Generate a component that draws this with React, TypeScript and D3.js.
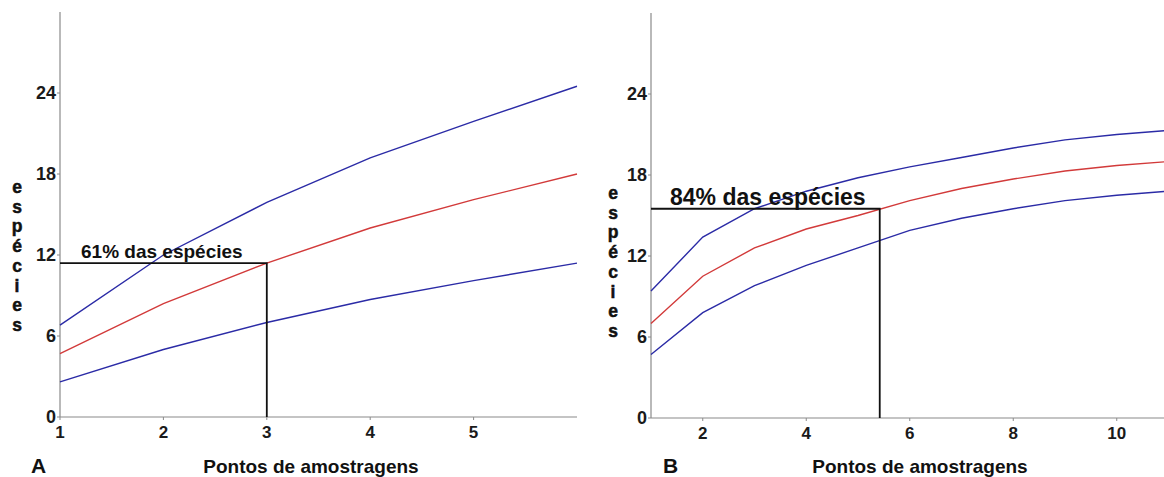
import React, { useEffect, useRef } from 'react';
import * as d3 from 'd3';

// panel A: 6 sampling points
const pointsA = [1, 2, 3, 4, 5, 6];
const upperA = [6.8, 12.0, 15.9, 19.2, 21.9, 24.5];
const meanA = [4.7, 8.4, 11.4, 14.0, 16.1, 18.0];
const lowerA = [2.6, 5.0, 7.0, 8.7, 10.1, 11.4];

// panel B: 11 sampling points
const pointsB = [1, 2, 3, 4, 5, 6, 7, 8, 9, 10, 11];
const upperB = [9.4, 13.4, 15.5, 16.8, 17.8, 18.6, 19.3, 20.0, 20.6, 21.0, 21.3];
const meanB = [7.0, 10.5, 12.6, 14.0, 15.0, 16.1, 17.0, 17.7, 18.3, 18.7, 19.0];
const lowerB = [4.7, 7.8, 9.8, 11.3, 12.6, 13.9, 14.8, 15.5, 16.1, 16.5, 16.8];

const yTicks = [0, 6, 12, 18, 24];
const xTicksA = [1, 2, 3, 4, 5];
const xTicksB = [2, 4, 6, 8, 10];

const markA = { x: 3, y: 11.4, label: '61% das espécies' };
const markB = { x: 5.42, y: 15.5, label: '84% das espécies' };

const yLabel = 'espécies';
const xLabel = 'Pontos de amostragens';

const FONT = '"Liberation Sans", Arial, sans-serif';

function drawPanel(svg, cfg) {
  const { left, right, top, bottom, xDomain, xTicks, pts, upper, mean, lower, mark, letter,
    letterX, titleX, yLabX, yLabY, markSize, markDx, markDy } = cfg;

  const x = d3.scaleLinear().domain(xDomain).range([left, right]);
  const y = d3.scaleLinear().domain([0, 30]).range([bottom, top]);

  const g = svg.append('g');

  // axes
  g.append('line')
    .attr('x1', left).attr('x2', left)
    .attr('y1', y(30)).attr('y2', y(0))
    .attr('stroke', '#8a8a8a').attr('stroke-width', 1.2);
  g.append('line')
    .attr('x1', left).attr('x2', right)
    .attr('y1', y(0)).attr('y2', y(0))
    .attr('stroke', '#8a8a8a').attr('stroke-width', 1.2);

  g.selectAll('.yt').data(yTicks).enter().append('line')
    .attr('x1', left - 3).attr('x2', left)
    .attr('y1', d => y(d)).attr('y2', d => y(d))
    .attr('stroke', '#8a8a8a');
  g.selectAll('.ytl').data(yTicks).enter().append('text')
    .attr('x', left - 4)
    .attr('y', d => y(d))
    .attr('dy', '0.36em')
    .attr('text-anchor', 'end')
    .attr('font-family', FONT).attr('font-weight', 'bold').attr('font-size', 18)
    .attr('fill', '#1a1a1a')
    .text(d => d);

  g.selectAll('.xt').data(xTicks).enter().append('line')
    .attr('x1', d => x(d)).attr('x2', d => x(d))
    .attr('y1', y(0)).attr('y2', y(0) + 3)
    .attr('stroke', '#8a8a8a');
  g.selectAll('.xtl').data(xTicks).enter().append('text')
    .attr('x', d => x(d))
    .attr('y', y(0) + 21)
    .attr('text-anchor', 'middle')
    .attr('font-family', FONT).attr('font-weight', 'bold').attr('font-size', 17)
    .attr('fill', '#1a1a1a')
    .text(d => d);

  // curves
  const line = d3.line().x((d, i) => x(pts[i])).y(d => y(d));
  [[upper, '#2b2ba6'], [mean, '#d23a3a'], [lower, '#2b2ba6']].forEach(([vals, col]) => {
    g.append('path')
      .attr('d', line(vals))
      .attr('fill', 'none')
      .attr('stroke', col)
      .attr('stroke-width', 1.4);
  });

  // percentage marker
  g.append('path')
    .attr('d', `M${left},${y(mark.y)}H${x(mark.x)}V${y(0)}`)
    .attr('fill', 'none')
    .attr('stroke', '#111')
    .attr('stroke-width', 1.8);
  g.append('text')
    .attr('x', left + markDx)
    .attr('y', y(mark.y) + markDy)
    .attr('font-family', FONT).attr('font-weight', 'bold').attr('font-size', markSize)
    .attr('fill', '#111')
    .text(mark.label);

  // y label, one letter per row
  g.selectAll('.yl').data(yLabel.split('')).enter().append('text')
    .attr('x', yLabX)
    .attr('y', (d, i) => yLabY + i * 19.7)
    .attr('text-anchor', 'middle')
    .attr('font-family', FONT).attr('font-weight', 'bold').attr('font-size', 17.5)
    .attr('fill', '#111')
    .attr('stroke', '#111').attr('stroke-width', 0.5)
    .text(d => d);

  g.append('text')
    .attr('x', titleX)
    .attr('y', 473)
    .attr('text-anchor', 'middle')
    .attr('font-family', FONT).attr('font-weight', 'bold').attr('font-size', 19)
    .attr('fill', '#111')
    .text(xLabel);

  g.append('text')
    .attr('x', letterX)
    .attr('y', 473)
    .attr('font-family', FONT).attr('font-weight', 'bold').attr('font-size', 21)
    .attr('fill', '#111')
    .text(letter);
}

export default function App() {
  const svgRef = useRef(null);

  useEffect(() => {
    const svg = d3.select(svgRef.current);
    svg.selectAll('*').remove();

    drawPanel(svg, {
      left: 60, right: 577, top: 12, bottom: 417,
      xDomain: [1, 6], xTicks: xTicksA, pts: pointsA,
      upper: upperA, mean: meanA, lower: lowerA, mark: markA,
      letter: 'A', letterX: 31, titleX: 311, yLabX: 17, yLabY: 193,
      markSize: 19, markDx: 21, markDy: -5
    });
    drawPanel(svg, {
      left: 651, right: 1168.5, top: 13, bottom: 418,
      xDomain: [1, 11], xTicks: xTicksB, pts: pointsB,
      upper: upperB, mean: meanB, lower: lowerB, mark: markB,
      letter: 'B', letterX: 663, titleX: 920, yLabX: 613, yLabY: 199,
      markSize: 23, markDx: 19, markDy: -4
    });
  }, []);

  return (
    <svg ref={svgRef} width={1164} height={477}
      style={{ position: 'absolute', left: 0, top: 0, background: '#fff' }} />
  );
}
